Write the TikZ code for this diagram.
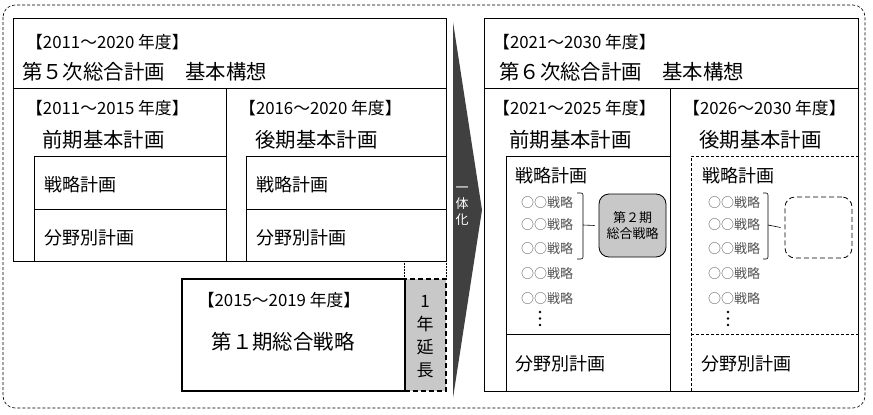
\documentclass[tikz,border=0pt]{standalone}
\usepackage{fontspec}
\setmainfont{Noto Sans CJK JP}
\usetikzlibrary{positioning, calc}
\definecolor{arrowgray}{RGB}{64,64,64}
\definecolor{fillgray}{RGB}{200,200,200}
\definecolor{itemgray}{RGB}{80,80,80}

\begin{document}
\begin{tikzpicture}[
    x=1pt, y=-1pt,
    frame/.style={draw=black, line width=0.8pt},
    softdash/.style={draw=black, line width=0.6pt, dash pattern=on 3pt off 2pt},
    yearlabel/.style={anchor=west, inner sep=0pt, font=\fontsize{16.8}{16.8}\selectfont},
    planlabel/.style={anchor=west, inner sep=0pt, font=\fontsize{20.4}{20.4}\selectfont},
    partlabel/.style={anchor=west, inner sep=0pt, font=\fontsize{18}{18}\selectfont},
    itemlabel/.style={anchor=west, inner sep=0pt, text=itemgray, font=\fontsize{13}{13}\selectfont},
    stratbox/.style={rectangle, rounded corners=10pt, minimum width=67pt, minimum height=63pt, align=center, inner sep=0pt, font=\fontsize{13}{16}\selectfont}
]
\useasboundingbox (0,0) rectangle (873,415);
% outer frame
\draw[softdash, rounded corners=12pt] (3,5) rectangle (865,408);

% 5th plan
\draw[frame] (13,18) rectangle (446,261);
\draw[frame] (13,88) -- (446,88);
\draw[frame] (226,88) -- (226,261);
\draw[frame] (34,261) -- (34,156) -- (226,156);
\draw[frame] (34,209) -- (226,209);
\draw[frame] (246,261) -- (246,156) -- (446,156);
\draw[frame] (246,209) -- (446,209);
\node[yearlabel] (y5) at (26,42) {【2011～2020 年度】};
\node[planlabel] (p5) at (22,72) {第５次総合計画　基本構想};
\node[yearlabel] (y5a) at (26,108) {【2011～2015 年度】};
\node[planlabel] (p5a) at (42,140) {前期基本計画};
\node[partlabel] (s5a) at (44,185) {戦略計画};
\node[partlabel] (f5a) at (44,238) {分野別計画};
\node[yearlabel] (y5b) at (239,108) {【2016～2020 年度】};
\node[planlabel] (p5b) at (255,140) {後期基本計画};
\node[partlabel] (s5b) at (256,185) {戦略計画};
\node[partlabel] (f5b) at (256,238) {分野別計画};

% 1st strategy + extension
\draw[densely dotted, line width=0.5pt] (404,261) -- (404,279);
\draw[densely dotted, line width=0.5pt] (446,261) -- (446,279);
\draw[fill=fillgray, line width=1.4pt, dash pattern=on 5pt off 3pt] (405,279) rectangle (446,391);
\draw[line width=1.6pt] (182,279) rectangle (405,391);
\node[yearlabel, anchor=center] (y1) at (279,300) {【2015～2019 年度】};
\node[planlabel, anchor=center] (s1) at (283,342) {第１期総合戦略};
\node[align=center, inner sep=0pt, font=\fontsize{17}{23}\selectfont] (ext) at (425,337) {1\\年\\延\\長};

% unify arrow
\fill[arrowgray] (453,22) -- (482,210) -- (453,398) -- cycle;
\node[align=center, inner sep=0pt, text=white, font=\fontsize{13}{16}\selectfont] (unify) at (462,206) {一\\体\\化};

% 6th plan
\draw[frame] (484,18) rectangle (858,391);
\draw[frame] (484,88) -- (858,88);
\draw[frame] (670,88) -- (670,391);
\draw[frame] (506,391) -- (506,156) -- (670,156);
\draw[frame] (506,334) -- (670,334);
\draw[softdash] (691,391) -- (691,156) -- (858,156);
\draw[softdash] (691,334) -- (858,334);
\node[yearlabel] (y6) at (493,42) {【2021～2030 年度】};
\node[planlabel] (p6) at (499,72) {第６次総合計画　基本構想};
\node[yearlabel] (y6a) at (493,108) {【2021～2025 年度】};
\node[planlabel] (p6a) at (509,140) {前期基本計画};
\node[yearlabel] (y6b) at (683,108) {【2026～2030 年度】};
\node[planlabel] (p6b) at (699,140) {後期基本計画};
\node[partlabel] (s6a) at (515,176) {戦略計画};
\node[partlabel] (s6b) at (702,176) {戦略計画};
\node[partlabel] (f6a) at (515,364) {分野別計画};
\node[partlabel] (f6b) at (701,364) {分野別計画};

\foreach \yy [count=\i] in {203,225,249,274,299} {
    \node[itemlabel] (la\i) at (521,\yy) {○○戦略};
    \node[itemlabel] (ra\i) at (708,\yy) {○○戦略};
}
\foreach \yy in {312,318.5,325} {
    \fill[black] (540,\yy) circle (1.3);
    \fill[black] (728,\yy) circle (1.3);
}

% 2nd strategy
\node[stratbox, draw=black, line width=0.8pt, fill=fillgray] (g2) at (632.5,225.5) {第２期\\総合戦略};
\node[stratbox, draw=black, line width=0.8pt, dash pattern=on 5pt off 3pt, minimum height=61pt] (g3) at (818.5,227.5) {};
\coordinate (brA) at (583,225);
\coordinate (brB) at (768,225);
\draw[line width=0.6pt, rounded corners=2pt] (577,193) -- (583,193) -- (583,259) -- (577,259);
\draw[line width=0.6pt, rounded corners=2pt] (763,193) -- (768,193) -- (768,259) -- (763,259);
\draw[line width=0.6pt] (brA) -- ($(g2.west)+(-4,0)$);
\draw[line width=0.6pt] (brB) -- ($(g3.west)+(-4,0)$);
\end{tikzpicture}
\end{document}
